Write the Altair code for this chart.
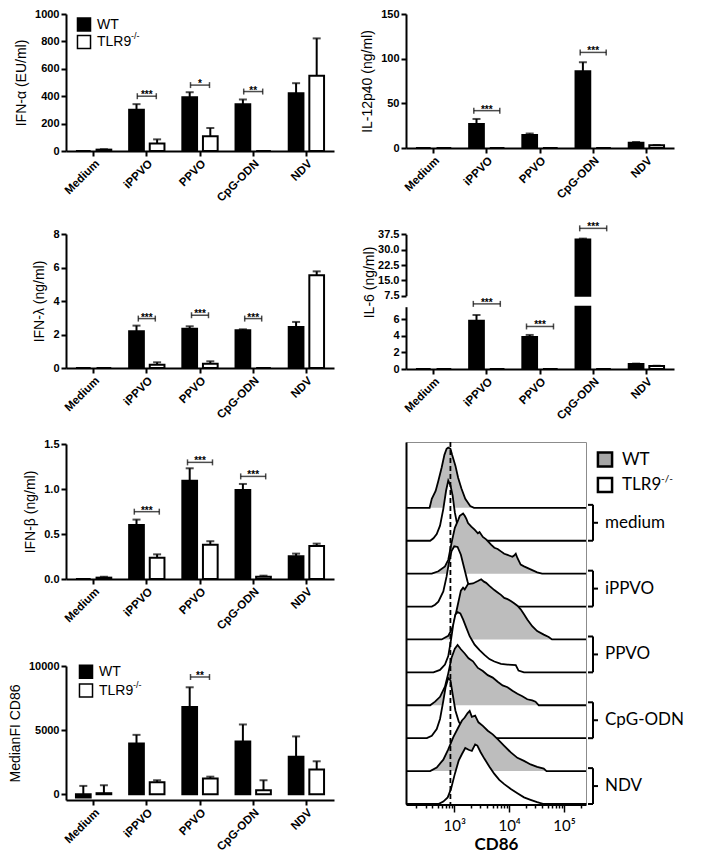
import altair as alt
import pandas as pd

categories = ["Medium", "iPPVO", "PPVO", "CpG-ODN", "NDV"]
groups = ["WT", "TLR9"]

# IFN-alpha (EU/ml)
ifna_wt = [0, 302, 393, 342, 422]
ifna_wt_err = [0, 40, 36, 34, 73]
ifna_ko = [10, 54, 107, 0, 549]
ifna_ko_err = [3, 31, 61, 0, 273]
ifna_sig_cat = ["iPPVO", "PPVO", "CpG-ODN"]
ifna_sig_y = [400, 481, 434]
ifna_sig_txt = ["***", "*", "**"]

# IL-12p40 (ng/ml)
il12_wt = [0, 27, 14.6, 86, 6.0]
il12_wt_err = [0, 5.5, 1.6, 10, 0.7]
il12_ko = [0, 0, 0, 0, 3.0]
il12_ko_err = [0, 0, 0, 0, 0.3]
il12_sig_cat = ["iPPVO", "CpG-ODN"]
il12_sig_y = [41.8, 107]
il12_sig_txt = ["***", "***"]

# IFN-lambda (ng/ml)
ifnl_wt = [0, 2.19, 2.35, 2.25, 2.45]
ifnl_wt_err = [0, 0.34, 0.14, 0.06, 0.30]
ifnl_ko = [0, 0.20, 0.26, 0, 5.53]
ifnl_ko_err = [0, 0.14, 0.14, 0, 0.24]
ifnl_sig_cat = ["iPPVO", "PPVO", "CpG-ODN"]
ifnl_sig_y = [2.95, 3.15, 2.95]
ifnl_sig_txt = ["***", "***", "***"]

# IL-6 (ng/ml), broken axis
il6_wt = [0, 5.8, 3.84, 35.0, 0.6]
il6_wt_err = [0, 0.7, 0.26, 0.4, 0.05]
il6_ko = [0, 0, 0, 0, 0.36]
il6_ko_err = [0, 0, 0, 0, 0.03]
il6_sig_cat = ["iPPVO", "PPVO", "CpG-ODN"]
il6_sig_y = [7.84, 5.12, 40.4]
il6_sig_seg = ["low", "low", "high"]
il6_sig_txt = ["***", "***", "***"]
il6_break = 7.5

# IFN-beta (ng/ml)
ifnb_wt = [0, 0.60, 1.093, 0.989, 0.252]
ifnb_wt_err = [0, 0.06, 0.137, 0.067, 0.03]
ifnb_ko = [0.015, 0.237, 0.38, 0.026, 0.367]
ifnb_ko_err = [0.01, 0.037, 0.04, 0.011, 0.026]
ifnb_sig_cat = ["iPPVO", "PPVO", "CpG-ODN"]
ifnb_sig_y = [0.748, 1.296, 1.14]
ifnb_sig_txt = ["***", "***", "***"]

# MedianFI CD86
cd86_wt = [-250, 3960, 6810, 4120, 2930]
cd86_wt_err = [900, 670, 1530, 1320, 1580]
cd86_ko = [80, 930, 1220, 310, 1920]
cd86_ko_err = [620, 160, 150, 780, 650]
cd86_sig_cat = ["PPVO"]
cd86_sig_y = [9143]
cd86_sig_txt = ["**"]

# CD86 histograms (log10 CD86, % of mode)
hist_log_min = 2.12
hist_log_max = 5.40
hist_dashed = [850]
hist_conditions = ["medium", "iPPVO", "PPVO", "CpG-ODN", "NDV"]

hist_medium_wt_log = [2.12, 2.55, 2.59, 2.66, 2.71, 2.77, 2.82, 2.86, 2.89, 2.93, 2.96, 3.02, 3.07, 3.13, 3.20, 3.29, 3.36, 5.40]
hist_medium_wt_pct = [0, 0, 15, 28, 45, 67, 88, 98, 100, 98, 88, 70, 50, 32, 15, 3, 0, 0]
hist_medium_ko_log = [2.12, 2.56, 2.62, 2.68, 2.74, 2.80, 2.85, 2.89, 2.93, 2.97, 3.01, 3.07, 3.13, 3.19, 3.28, 5.40]
hist_medium_ko_pct = [0, 0, 4, 11, 25, 53, 83, 100, 92, 75, 47, 19, 6, 1, 0, 0]
hist_ippvo_wt_log = [2.12, 2.59, 2.71, 2.83, 2.89, 2.95, 3.01, 3.07, 3.10, 3.16, 3.19, 3.22, 3.25, 3.31, 3.37, 3.43, 3.46, 3.52, 3.58, 3.67, 3.73, 3.79, 3.85, 3.91, 3.97, 4.06, 4.09, 4.12, 4.15, 4.21, 4.27, 4.39, 4.51, 4.60, 5.40]
hist_ippvo_wt_pct = [0, 0, 4, 12, 23, 51, 76, 89, 96, 100, 96, 91, 84, 78, 73, 67, 69, 61, 57, 48, 43, 41, 37, 33, 31, 28, 30, 33, 26, 15, 12, 7, 2, 0, 0]
hist_ippvo_ko_log = [2.12, 2.59, 2.65, 2.71, 2.80, 2.86, 2.90, 2.95, 3.00, 3.06, 3.12, 3.18, 3.24, 3.31, 3.40, 3.52, 3.67, 5.40]
hist_ippvo_ko_pct = [0, 0, 3, 8, 25, 50, 72, 92, 100, 99, 86, 64, 42, 22, 10, 3, 0, 0]
hist_ppvo_wt_log = [2.12, 2.77, 2.89, 2.98, 3.06, 3.12, 3.16, 3.19, 3.25, 3.34, 3.43, 3.49, 3.54, 3.58, 3.64, 3.73, 3.79, 3.85, 3.91, 3.97, 4.03, 4.09, 4.15, 4.21, 4.27, 4.33, 4.42, 4.51, 4.63, 4.72, 4.78, 5.40]
hist_ppvo_wt_pct = [0, 0, 6, 22, 56, 81, 86, 83, 92, 93, 97, 100, 96, 94, 89, 82, 78, 74, 69, 67, 64, 60, 56, 50, 42, 33, 22, 14, 8, 4, 0, 0]
hist_ppvo_ko_log = [2.12, 2.62, 2.74, 2.83, 2.89, 2.94, 2.98, 3.02, 3.06, 3.11, 3.16, 3.22, 3.28, 3.37, 3.46, 3.55, 3.64, 3.73, 3.85, 3.97, 4.12, 4.17, 4.27, 5.40]
hist_ppvo_ko_pct = [0, 0, 4, 13, 27, 54, 79, 96, 100, 98, 88, 74, 60, 46, 37, 29, 22, 18, 14, 13, 12, 3, 0, 0]
hist_cpg_wt_log = [2.12, 2.56, 2.65, 2.74, 2.83, 2.89, 2.95, 3.01, 3.06, 3.12, 3.19, 3.26, 3.34, 3.43, 3.52, 3.61, 3.70, 3.79, 3.88, 3.97, 4.06, 4.15, 4.24, 4.33, 4.42, 4.48, 4.54, 5.40]
hist_cpg_wt_pct = [0, 0, 6, 14, 31, 53, 79, 94, 100, 93, 86, 78, 73, 62, 57, 50, 46, 39, 33, 30, 24, 19, 15, 10, 8, 6, 0, 0]
hist_cpg_ko_log = [2.12, 2.50, 2.59, 2.68, 2.74, 2.80, 2.84, 2.89, 2.93, 2.97, 3.02, 3.08, 3.16, 3.25, 3.40, 3.58, 5.40]
hist_cpg_ko_pct = [0, 0, 4, 15, 32, 62, 84, 100, 96, 73, 46, 28, 15, 8, 3, 0, 0]
hist_ndv_wt_log = [2.12, 2.56, 2.68, 2.80, 2.89, 2.98, 3.07, 3.14, 3.19, 3.24, 3.28, 3.32, 3.38, 3.44, 3.52, 3.61, 3.70, 3.79, 3.91, 4.03, 4.15, 4.27, 4.39, 4.51, 4.63, 4.68, 5.40]
hist_ndv_wt_pct = [0, 0, 6, 19, 36, 56, 72, 84, 89, 96, 100, 90, 92, 81, 75, 67, 61, 53, 42, 31, 22, 17, 11, 7, 4, 0, 0]
hist_ndv_ko_log = [2.12, 2.71, 2.80, 2.88, 2.94, 3.01, 3.08, 3.14, 3.20, 3.26, 3.32, 3.38, 3.42, 3.48, 3.55, 3.64, 3.73, 3.82, 3.91, 4.03, 4.15, 4.27, 4.39, 4.51, 4.63, 5.40]
hist_ndv_ko_pct = [0, 0, 4, 11, 25, 50, 72, 83, 93, 90, 88, 99, 97, 86, 75, 62, 50, 40, 33, 25, 18, 11, 7, 3, 0, 0]

hist_curves = [
    ("WT", hist_medium_wt_log, hist_medium_wt_pct),
    ("TLR9", hist_medium_ko_log, hist_medium_ko_pct),
    ("WT", hist_ippvo_wt_log, hist_ippvo_wt_pct),
    ("TLR9", hist_ippvo_ko_log, hist_ippvo_ko_pct),
    ("WT", hist_ppvo_wt_log, hist_ppvo_wt_pct),
    ("TLR9", hist_ppvo_ko_log, hist_ppvo_ko_pct),
    ("WT", hist_cpg_wt_log, hist_cpg_wt_pct),
    ("TLR9", hist_cpg_ko_log, hist_cpg_ko_pct),
    ("WT", hist_ndv_wt_log, hist_ndv_wt_pct),
    ("TLR9", hist_ndv_ko_log, hist_ndv_ko_pct),
]

# ---------------------------------------------------------------- styling
FONT = "Liberation Sans"
HFONT = "Lato"
W = 268
XSCALE = alt.Scale(domain=categories, paddingInner=0.336, paddingOuter=0.187)
XOSCALE = alt.Scale(domain=groups, paddingInner=0.2857, paddingOuter=0)
FILL = alt.Scale(domain=groups, range=["black", "white"])


def x_axis():
    return alt.Axis(title=None, labels=False, domainColor="black", domainWidth=2,
                    tickColor="black", tickWidth=2, tickSize=5, grid=False, orient="bottom")


def y_axis(values, title, fmt="d", **kw):
    d = dict(values=values, title=title, orient="left", titleFont=FONT, titleFontSize=14,
             titleFontWeight="normal", titleColor="black", titlePadding=6, labelFont=FONT,
             labelFontWeight="bold", labelFontSize=11, labelColor="black", labelPadding=2,
             labelOverlap=False, domainColor="black", domainWidth=2, tickColor="black",
             tickWidth=2, tickSize=5, grid=False, format=fmt)
    d.update(kw)
    return alt.Axis(**d)


def bar_frame(wt, wt_err, ko, ko_err):
    rows = []
    for i, c in enumerate(categories):
        rows.append({"cat": c, "grp": "WT", "v": wt[i], "err": wt_err[i]})
        rows.append({"cat": c, "grp": "TLR9", "v": ko[i], "err": ko_err[i]})
    df = pd.DataFrame(rows)
    df["top"] = df["v"] + df["err"]
    return df


def bar_layers(df, yscale, yaxis, xaxis, vfield="v", base=0.0,
               bar_filter=None, err_filter="datum.err > 0"):
    xe = alt.X("cat:N", sort=categories, scale=XSCALE, axis=xaxis)
    xo = alt.XOffset("grp:N", sort=groups, scale=XOSCALE)
    b = alt.Chart(df)
    if bar_filter:
        b = b.transform_filter(bar_filter)
    bars = b.transform_calculate(vl=f"min(datum.v, {il6_break})").mark_bar(
        stroke="black", strokeWidth=2).encode(
        x=xe, xOffset=xo,
        y=alt.Y(f"{vfield}:Q", scale=yscale, axis=yaxis),
        y2=alt.datum(base),
        fill=alt.Fill("grp:N", scale=FILL, legend=None))
    err = alt.Chart(df).transform_filter(err_filter).mark_rule(
        color="black", strokeWidth=2).encode(
        x=xe, xOffset=xo, y=alt.Y("v:Q", scale=yscale, axis=yaxis), y2="top:Q")
    cap = alt.Chart(df).transform_filter(err_filter).mark_tick(
        color="black", orient="horizontal", size=8, thickness=2).encode(
        x=xe, xOffset=xo, y=alt.Y("top:Q", scale=yscale, axis=yaxis))
    return [bars, err, cap]


def cat_labels(xaxis, height):
    xe = alt.X("cat:N", sort=categories, scale=XSCALE, axis=xaxis)
    return alt.Chart(pd.DataFrame({"cat": categories})).mark_text(
        align="right", baseline="top", font=FONT, fontWeight="bold",
        fontSize=11.5, color="black").encode(
        x=xe, y=alt.value(height + 7), text="cat:N", angle=alt.value(315))


def sig_layers(cats, ys, txts, yscale, yaxis, xaxis, bw):
    df = pd.DataFrame({"cat": cats, "y": ys, "s": txts})
    xe = alt.X("cat:N", sort=categories, scale=XSCALE, axis=xaxis)
    y = alt.Y("y:Q", scale=yscale, axis=yaxis)
    line = alt.Chart(df).mark_tick(color="black", orient="horizontal", size=bw,
                                   thickness=1.5).encode(x=xe, y=y)
    e1 = alt.Chart(df).mark_tick(color="black", orient="vertical", size=6, thickness=1.5,
                                 xOffset=-bw / 2).encode(x=xe, y=y)
    e2 = alt.Chart(df).mark_tick(color="black", orient="vertical", size=6, thickness=1.5,
                                 xOffset=bw / 2).encode(x=xe, y=y)
    t = alt.Chart(df).mark_text(font=FONT, fontSize=10, fontWeight="bold", color="black",
                                baseline="alphabetic", dy=2).encode(x=xe, y=y, text="s:N")
    return [line, e1, e2, t]


def bar_legend(bx, by1, by2, tx):
    one = pd.DataFrame({"k": [0]})
    sq1 = alt.Chart(one).mark_square(size=170, fill="black", stroke="black", strokeWidth=1.5,
                                     opacity=1).encode(x=alt.value(bx), y=alt.value(by1))
    sq2 = alt.Chart(one).mark_square(size=170, fill="white", stroke="black", strokeWidth=1.5,
                                     opacity=1).encode(x=alt.value(bx), y=alt.value(by2))
    t1 = alt.Chart(one).mark_text(text="WT", align="left", baseline="middle", font=FONT,
                                  fontSize=14, color="black").encode(x=alt.value(tx), y=alt.value(by1))
    t2 = alt.Chart(one).mark_text(text="TLR9", align="left", baseline="middle", font=FONT,
                                  fontSize=14, color="black").encode(x=alt.value(tx), y=alt.value(by2))
    t3 = alt.Chart(one).mark_text(text="-/-", align="left", baseline="middle", font=FONT,
                                  fontSize=9, color="black").encode(x=alt.value(tx + 34), y=alt.value(by2 - 6))
    return [sq1, sq2, t1, t2, t3]


def panel(wt, wt_err, ko, ko_err, sig, domain, values, title, height, rng=None,
          fmt="d", bw=20, legend=None):
    df = bar_frame(wt, wt_err, ko, ko_err)
    sc = dict(domain=domain, nice=False, zero=False)
    if rng:
        sc["range"] = rng
    ysc = alt.Scale(**sc)
    ya = y_axis(values, title, fmt)
    xa = x_axis()
    layers = bar_layers(df, ysc, ya, xa)
    layers += sig_layers(sig[0], sig[1], sig[2], ysc, ya, xa, bw)
    layers.append(cat_labels(xa, height))
    if legend:
        layers += bar_legend(*legend)
    return alt.layer(*layers).properties(width=W, height=height)


# ---------------------------------------------------------------- left column
p1 = panel(ifna_wt, ifna_wt_err, ifna_ko, ifna_ko_err,
           (ifna_sig_cat, ifna_sig_y, ifna_sig_txt), [0, 1000],
           [0, 200, 400, 600, 800, 1000], "IFN-α (EU/ml)", 137, bw=19,
           legend=(18, 10.5, 28, 31))
p3 = panel(ifnl_wt, ifnl_wt_err, ifnl_ko, ifnl_ko_err,
           (ifnl_sig_cat, ifnl_sig_y, ifnl_sig_txt), [0, 8],
           [0, 2, 4, 6, 8], "IFN-λ (ng/ml)", 141, rng=[141, 7], bw=17)
p5 = panel(ifnb_wt, ifnb_wt_err, ifnb_ko, ifnb_ko_err,
           (ifnb_sig_cat, ifnb_sig_y, ifnb_sig_txt), [0, 1.5],
           [0, 0.5, 1.0, 1.5], "IFN-β (ng/ml)", 135, fmt=".1f", bw=25)
p6 = panel(cd86_wt, cd86_wt_err, cd86_ko, cd86_ko_err,
           (cd86_sig_cat, cd86_sig_y, cd86_sig_txt), [-450, 10000],
           [0, 5000, 10000], "MedianFI CD86", 145, rng=[145, 11], bw=19,
           legend=(20, 16.8, 35.5, 33))

left = alt.vconcat(p1, p3, p5, p6, spacing=76, bounds="flush")

# ---------------------------------------------------------------- right column
p2 = panel(il12_wt, il12_wt_err, il12_ko, il12_ko_err,
           (il12_sig_cat, il12_sig_y, il12_sig_txt), [0, 150],
           [0, 50, 100, 150], "IL-12p40 (ng/ml)", 134, bw=26)

# IL-6 with broken axis
H4 = 148
il6_df = bar_frame(il6_wt, il6_wt_err, il6_ko, il6_ko_err)
Y_LOW = alt.Scale(domain=[0, il6_break], range=[H4, 85.7], nice=False, zero=False)
Y_HIGH = alt.Scale(domain=[il6_break, 37.5], range=[74.7, 13.3], nice=False, zero=False)
ya_low = y_axis([0, 2, 4, 6], "IL-6 (ng/ml)", "d", titleY=61, titleX=-30)
ya_high = y_axis([7.5, 15, 22.5, 30, 37.5], None, ".1f")
xa4 = x_axis()
low_layers = bar_layers(il6_df, Y_LOW, ya_low, xa4, vfield="vl", base=0.0,
                        err_filter=f"datum.err > 0 && datum.top <= {il6_break}")
high_layers = bar_layers(il6_df, Y_HIGH, ya_high, xa4, vfield="v", base=il6_break,
                         bar_filter=f"datum.v > {il6_break}",
                         err_filter=f"datum.err > 0 && datum.v > {il6_break}")
lo_sig = [(c, y, t) for c, y, t, s in zip(il6_sig_cat, il6_sig_y, il6_sig_txt, il6_sig_seg) if s == "low"]
hi_sig = [(c, y, t) for c, y, t, s in zip(il6_sig_cat, il6_sig_y, il6_sig_txt, il6_sig_seg) if s == "high"]
low_layers += sig_layers([a[0] for a in lo_sig], [a[1] for a in lo_sig], [a[2] for a in lo_sig],
                         Y_LOW, ya_low, xa4, 27)
high_layers += sig_layers([a[0] for a in hi_sig], [a[1] for a in hi_sig], [a[2] for a in hi_sig],
                          Y_HIGH, ya_high, xa4, 27)
low_layers.append(cat_labels(xa4, H4))
p4 = alt.layer(alt.layer(*low_layers), alt.layer(*high_layers)).resolve_scale(
    y="independent").properties(width=W, height=H4)

# Histogram panel
HW = 180
HH = 362
PEAK = 1.83
XLOG = alt.Scale(type="log", domain=[10 ** hist_log_min, 10 ** hist_log_max], nice=False)
YH = alt.Scale(domain=[0, 11.0], nice=False, zero=False)
hist_ticks = [200, 300, 400, 500, 600, 700, 800, 900, 1000,
              2000, 3000, 4000, 5000, 6000, 7000, 8000, 9000, 10000,
              20000, 30000, 40000, 50000, 60000, 70000, 80000, 90000, 100000, 200000]
hx_axis = alt.Axis(values=hist_ticks,
                   labelExpr="datum.value == 1000 ? '10³' : datum.value == 10000 ? '10⁴' : datum.value == 100000 ? '10⁵' : ''",
                   tickSize={"condition": {"test": "datum.value == 1000 || datum.value == 10000 || datum.value == 100000", "value": 8}, "value": 4},
                   tickColor="black", tickWidth=1.5, domainColor="black", domainWidth=3,
                   labelFont=HFONT, labelFontSize=15, labelColor="black", labelPadding=6,
                   labelOverlap=False, labelFlush=False, orient="bottom",
                   title="CD86", titleFont=HFONT, titleFontSize=17, titleFontWeight="bold",
                   titleColor="black", titlePadding=3, grid=False)
hy_axis = alt.Axis(orient="left", labels=False, ticks=False, title=None,
                   domainColor="black", domainWidth=2, grid=False)
HX = alt.X("cd86:Q", scale=XLOG, axis=hx_axis)

hist_layers = []
for i, (g, lx, pc) in enumerate(hist_curves):
    base = 9 - i
    df = pd.DataFrame({"cd86": [10 ** v for v in lx],
                       "y": [base + p / 100 * PEAK for p in pc],
                       "base": [base] * len(lx)})
    fillc = "#bdbdbd" if g == "WT" else "white"
    ye = alt.Y("y:Q", scale=YH, axis=hy_axis)
    area = alt.Chart(df).mark_area(color=fillc, opacity=1).encode(x=HX, y=ye, y2="base:Q")
    line = alt.Chart(df).mark_line(color="black", strokeWidth=1.8).encode(x=HX, y=ye)
    hist_layers += [area, line]

dashed = alt.Chart(pd.DataFrame({"cd86": hist_dashed})).mark_rule(
    color="black", strokeDash=[5, 3], strokeWidth=1.8).encode(x=HX)
hist_layers.append(dashed)

side = pd.DataFrame({"lab": hist_conditions,
                     "top": [9 - 2 * k + 0.09 for k in range(5)],
                     "bot": [9 - 2 * k - 1 for k in range(5)]})
side["mid"] = (side["top"] + side["bot"]) / 2
BX = 187
hist_layers += [
    alt.Chart(side).mark_rule(color="black", strokeWidth=2).encode(
        x=alt.value(BX), y=alt.Y("top:Q", scale=YH, axis=hy_axis), y2="bot:Q"),
    alt.Chart(side).mark_rule(color="black", strokeWidth=2).encode(
        x=alt.value(BX - 5), x2=alt.value(BX), y=alt.Y("top:Q", scale=YH, axis=hy_axis)),
    alt.Chart(side).mark_rule(color="black", strokeWidth=2).encode(
        x=alt.value(BX - 5), x2=alt.value(BX), y=alt.Y("bot:Q", scale=YH, axis=hy_axis)),
    alt.Chart(side).mark_rule(color="black", strokeWidth=2).encode(
        x=alt.value(BX), x2=alt.value(BX + 5), y=alt.Y("mid:Q", scale=YH, axis=hy_axis)),
    alt.Chart(side).mark_text(align="left", baseline="middle", font=HFONT, fontSize=17,
                              color="black").encode(
        x=alt.value(BX + 12), y=alt.Y("mid:Q", scale=YH, axis=hy_axis), text="lab:N"),
]
one = pd.DataFrame({"k": [0]})
LX = 199
hist_layers += [
    alt.Chart(one).mark_square(size=200, fill="#a6a6a6", stroke="black", strokeWidth=2.5,
                               opacity=1).encode(x=alt.value(LX), y=alt.value(17.5)),
    alt.Chart(one).mark_square(size=200, fill="white", stroke="black", strokeWidth=2.5,
                               opacity=1).encode(x=alt.value(LX), y=alt.value(43)),
    alt.Chart(one).mark_text(text="WT", align="left", baseline="middle", font=HFONT,
                             fontSize=17, color="black").encode(x=alt.value(LX + 17), y=alt.value(17.5)),
    alt.Chart(one).mark_text(text="TLR9", align="left", baseline="middle", font=HFONT,
                             fontSize=17, color="black").encode(x=alt.value(LX + 17), y=alt.value(43)),
    alt.Chart(one).mark_text(text="-/-", align="left", baseline="middle", font=HFONT,
                             fontSize=10, color="black").encode(x=alt.value(LX + 56), y=alt.value(37)),
]
hist = alt.layer(*hist_layers).properties(
    width=HW, height=HH, view=alt.ViewBackground(stroke="#8c8c8c", strokeWidth=1))

right = alt.vconcat(p2, p4, hist, spacing=73, bounds="flush")

chart = alt.hconcat(left, right, spacing=26).properties(
    padding={"left": 0, "top": 0, "right": 0, "bottom": 0}
).configure_view(stroke=None)

chart.save("out.html", embed_options={"renderer": "svg", "actions": False})
